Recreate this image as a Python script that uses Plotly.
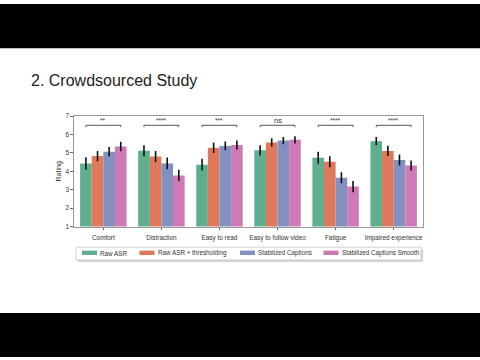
import plotly.graph_objects as go

categories = ["Comfort", "Distraction", "Easy to read", "Easy to follow video", "Fatigue", "Impaired experience"]
series_names = ["Raw ASR", "Raw ASR + thresholding", "Stabilized Captions", "Stabilized Captions Smooth"]
raw_asr = [4.43, 5.12, 4.36, 5.14, 4.74, 5.64]
raw_asr_thr = [4.83, 4.80, 5.28, 5.57, 4.52, 5.11]
stabilized = [5.06, 4.43, 5.38, 5.67, 3.65, 4.61]
stabilized_smooth = [5.35, 3.78, 5.43, 5.71, 3.17, 4.31]
err_raw = [0.33, 0.30, 0.32, 0.28, 0.33, 0.22]
err_thr = [0.28, 0.30, 0.28, 0.22, 0.30, 0.28]
err_stab = [0.26, 0.32, 0.24, 0.20, 0.30, 0.30]
err_smooth = [0.26, 0.30, 0.24, 0.20, 0.30, 0.28]
significance = ["**", "****", "***", "ns", "****", "****"]
bracket_level = [6.5, 6.5, 6.5, 6.5, 6.5, 6.5]
y_ticks = [1, 2, 3, 4, 5, 6, 7]

colors = ["#5fae8d", "#e0795c", "#8291c0", "#cf7ab5"]
values = [raw_asr, raw_asr_thr, stabilized, stabilized_smooth]
errors = [err_raw, err_thr, err_stab, err_smooth]

W, H = 480, 360
def px_x(p):
    return p / W
def px_y(p):
    return 1 - p / H

fig = go.Figure()
for name, vals, errs, col in zip(series_names, values, errors, colors):
    fig.add_trace(go.Bar(
        x=categories, y=vals, name=name, marker_color=col, marker_line_width=0,
        error_y=dict(type="data", array=errs, color="#111111", thickness=1.6, width=0),
        showlegend=False, hoverinfo="skip",
    ))

shapes = []
annotations = []
# black letterbox bars
shapes.append(dict(type="rect", xref="paper", yref="paper", x0=0, x1=1, y0=px_y(45), y1=1,
                   fillcolor="black", line_width=0, layer="below"))
shapes.append(dict(type="rect", xref="paper", yref="paper", x0=0, x1=1, y0=0, y1=px_y(315),
                   fillcolor="black", line_width=0, layer="below"))

# significance brackets
for i, (lab, lvl) in enumerate(zip(significance, bracket_level)):
    x0, x1 = i - 0.3, i + 0.3
    shapes.append(dict(type="path", xref="x", yref="y",
                       path=f"M {x0},{lvl-0.1} L {x0},{lvl} L {x1},{lvl} L {x1},{lvl-0.1}",
                       line=dict(color="#555555", width=1)))
    is_ns = lab == "ns"
    annotations.append(dict(x=i, y=lvl, xref="x", yref="y", text=lab, showarrow=False,
                            yanchor="bottom", yshift=-1 if not is_ns else -2,
                            font=dict(size=6.5 if not is_ns else 7.5, color="#333333",
                                      family="Liberation Sans")))

# manual legend
lx0, lx1, ly0, ly1 = 76, 421, 248, 261
shapes.append(dict(type="rect", xref="paper", yref="paper",
                   x0=px_x(lx0 + 2), x1=px_x(lx1 + 2), y0=px_y(ly1 + 2), y1=px_y(ly0 + 2),
                   fillcolor="#d4d4d4", line_width=0))
shapes.append(dict(type="rect", xref="paper", yref="paper",
                   x0=px_x(lx0), x1=px_x(lx1), y0=px_y(ly1), y1=px_y(ly0),
                   fillcolor="white", line=dict(color="#d0d0d0", width=1)))
patch_x = [82, 139.5, 240, 323.5]
for name, col, pxs in zip(series_names, colors, patch_x):
    shapes.append(dict(type="rect", xref="paper", yref="paper",
                       x0=px_x(pxs), x1=px_x(pxs + 15), y0=px_y(256), y1=px_y(251.5),
                       fillcolor=col, line_width=0))
    annotations.append(dict(x=px_x(pxs + 16), y=px_y(254), xref="paper", yref="paper",
                            text=name, showarrow=False, xanchor="left", yanchor="middle",
                            font=dict(size=6.3, color="#333333", family="Liberation Sans")))

# title
annotations.append(dict(x=px_x(29), y=px_y(78), xref="paper", yref="paper",
                        text="2. Crowdsourced Study", showarrow=False, xanchor="left",
                        yanchor="middle",
                        font=dict(size=16, color="#222222", family="Liberation Sans")))

fig.update_layout(
    width=W, height=H, margin=dict(l=0, r=0, t=0, b=0),
    paper_bgcolor="white", plot_bgcolor="white",
    barmode="group", bargap=0.2, bargroupgap=0,
    shapes=shapes, annotations=annotations,
    font=dict(family="Liberation Sans", color="#333333"),
    xaxis=dict(domain=[px_x(74.3), px_x(422.7)], range=[-0.5, 5.5],
               showline=True, mirror=True, linecolor="#9a9a9a", linewidth=1,
               ticks="outside", ticklen=2, tickcolor="#666666", ticklabelstandoff=3,
               tickfont=dict(size=6.4, color="#333333"), showgrid=False),
    yaxis=dict(domain=[px_y(227), px_y(114.3)], range=[1, 7], tickvals=y_ticks,
               showline=True, mirror=True, linecolor="#9a9a9a", linewidth=1,
               ticks="outside", ticklen=3, tickcolor="#666666",
               tickfont=dict(size=6.5, color="#333333"), showgrid=False, zeroline=False,
               title=dict(text="Rating", font=dict(size=7, color="#333333"), standoff=2)),
)

fig.write_html("out.html", config={"displayModeBar": False},
               post_script="document.body.style.margin='0';document.body.style.overflow='hidden';")
